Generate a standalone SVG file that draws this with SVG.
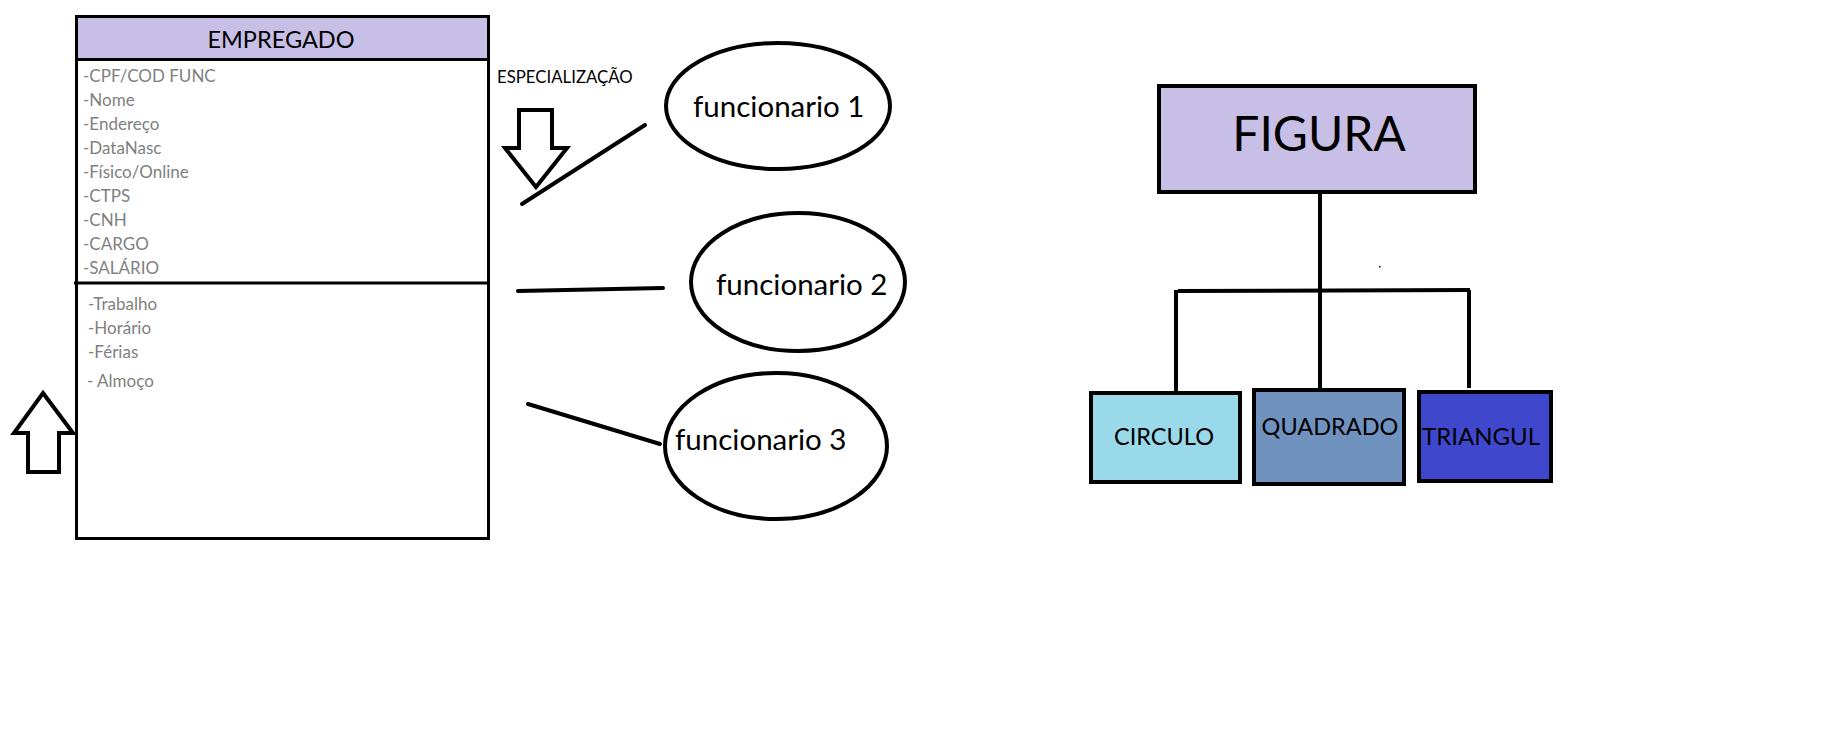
<svg xmlns="http://www.w3.org/2000/svg" width="1846" height="734" viewBox="0 0 1846 734">
<style>
.t{font-family:Lato,"Open Sans","Liberation Sans",sans-serif;fill:#000}
.attr{font-family:Lato,"Open Sans","Liberation Sans",sans-serif;font-size:17px;fill:#7f7f7f}
.ln{stroke:#000;stroke-width:4;stroke-linecap:round;fill:none}
.box{stroke:#000;stroke-width:4}
.ell{fill:#fff;stroke:#000;stroke-width:4}
.arrow{fill:#fff;stroke:#000;stroke-width:4;stroke-linejoin:miter}
</style>
<rect width="1846" height="734" fill="#fff"/>
<g id="empregado">
<rect x="76.5" y="16.5" width="412" height="522" fill="#fff" stroke="#000" stroke-width="3"/>
<rect x="78" y="18" width="409" height="40" fill="#c8bfe7"/>
<line x1="76" y1="59.5" x2="489" y2="59.5" stroke="#000" stroke-width="3"/>
<line x1="74" y1="283" x2="489" y2="283" stroke="#000" stroke-width="3"/>
<text class="t" x="281" y="48" font-size="23.5" text-anchor="middle">EMPREGADO</text>
<text class="attr" x="83" y="82">-CPF/COD FUNC</text>
<text class="attr" x="83" y="106">-Nome</text>
<text class="attr" x="83" y="130">-Endereço</text>
<text class="attr" x="83" y="154">-DataNasc</text>
<text class="attr" x="83" y="178">-Físico/Online</text>
<text class="attr" x="83" y="202">-CTPS</text>
<text class="attr" x="83" y="226">-CNH</text>
<text class="attr" x="83" y="250">-CARGO</text>
<text class="attr" x="83" y="274">-SALÁRIO</text>
<text class="attr" x="88" y="310">-Trabalho</text>
<text class="attr" x="88" y="334">-Horário</text>
<text class="attr" x="88" y="358">-Férias</text>
<text class="attr" x="87" y="387">- Almoço</text>
</g>
<g id="up-arrow">
<polygon class="arrow" points="43,393 73,433 59,433 59,472 28,472 28,433 14,433"/>
</g>
<g id="especializacao">
<text class="t" x="497" y="83" font-size="16.8">ESPECIALIZAÇÃO</text>
<polygon class="arrow" points="519,110 552,110 552,148 567,148 536,187 505,148 519,148"/>
</g>
<g id="funcionario1">
<ellipse class="ell" cx="778" cy="106" rx="112" ry="63"/>
<text class="t" x="693" y="117" font-size="29.5">funcionario 1</text>
</g>
<g id="funcionario2">
<ellipse class="ell" cx="798" cy="282" rx="107" ry="69"/>
<text class="t" x="716" y="295" font-size="29.5">funcionario 2</text>
</g>
<g id="funcionario3">
<ellipse class="ell" cx="776" cy="446" rx="111" ry="73"/>
<text class="t" x="675" y="450" font-size="29.5">funcionario 3</text>
</g>
<g id="figura">
<rect class="box" x="1159" y="86" width="316" height="106" fill="#c8bfe7"/>
<text class="t" x="1319" y="151" font-size="48" text-anchor="middle">FIGURA</text>
</g>
<g id="circulo">
<rect class="box" x="1091" y="393" width="149" height="89" fill="#99d9ea"/>
<text class="t" x="1164" y="445" font-size="23.5" text-anchor="middle">CIRCULO</text>
</g>
<g id="quadrado">
<rect class="box" x="1254" y="390" width="150" height="94" fill="#7092be"/>
<text class="t" x="1330" y="435" font-size="23.5" text-anchor="middle">QUADRADO</text>
</g>
<g id="triangul">
<rect class="box" x="1419" y="392" width="132" height="89" fill="#3f48cc"/>
<text class="t" x="1481" y="445" font-size="24" text-anchor="middle">TRIANGUL</text>
</g>
<g id="connectors">
<line class="ln" x1="522" y1="204" x2="645" y2="125"/>
<line class="ln" x1="518" y1="291" x2="663" y2="288"/>
<line class="ln" x1="528" y1="404" x2="660" y2="444"/>
<line x1="1320" y1="194" x2="1320" y2="388" stroke="#000" stroke-width="4"/>
<line x1="1178" y1="291" x2="1470" y2="290" stroke="#000" stroke-width="4"/>
<line x1="1176" y1="290" x2="1176" y2="391" stroke="#000" stroke-width="4"/>
<line x1="1469" y1="290" x2="1469" y2="388" stroke="#000" stroke-width="4"/>
</g>
<rect x="1379" y="266" width="1.5" height="1.5" fill="#000"/>
</svg>
